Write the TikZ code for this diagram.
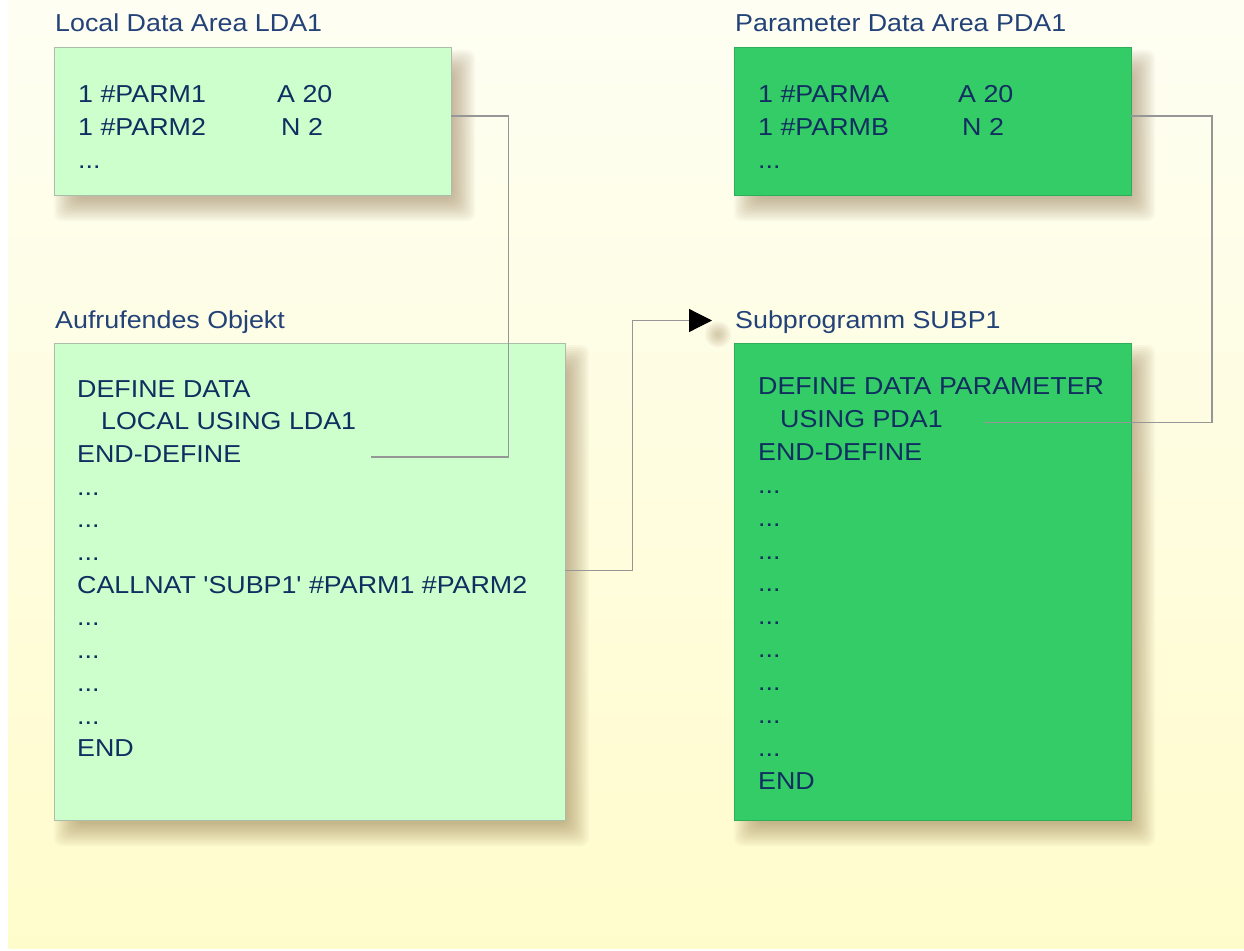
\documentclass[tikz,border=0pt]{standalone}
\usepackage{fontspec}
\setmainfont{Liberation Sans}[Ligatures=TeXOff,FakeStretch=1.095]
\usetikzlibrary{arrows.meta,calc}
\pgfdeclarelayer{bg}
\pgfsetlayers{bg,main}
\definecolor{bgtop}{RGB}{254,254,243}
\definecolor{bgmid}{RGB}{255,252,212}
\definecolor{bgbot}{RGB}{255,252,204}
\definecolor{lightg}{RGB}{204,255,204}
\definecolor{darkg}{RGB}{51,204,102}
\definecolor{lbord}{RGB}{170,190,170}
\definecolor{dbord}{RGB}{45,175,90}
\definecolor{txt}{RGB}{16,46,96}
\definecolor{ttl}{RGB}{35,66,120}
\definecolor{conncol}{RGB}{150,150,150}
\definecolor{shcol}{RGB}{120,85,40}
\newcommand\boxshadow[1]{%
  \foreach \k in {0,...,11}{%
    \pgfmathsetmacro\shr{-12+2*\k}%
    \pgfmathsetmacro\sha{12+\shr}%
    \pgfmathsetmacro\shb{14+\shr}%
    \pgfmathsetmacro\shc{12-\shr}%
    \pgfmathsetmacro\shd{14-\shr}%
    \fill[shcol,opacity=0.04,rounded corners=8pt]
      ($(#1.north west)+(\sha,\shb)$) rectangle ($(#1.south east)+(\shc,\shd)$);}}
\begin{document}
\begin{tikzpicture}[x=1pt,y=-1pt,
  font=\fontsize{24.5}{32.7}\selectfont,
  lbox/.style={draw=lbord,fill=lightg,line width=1pt,inner sep=0pt,outer sep=0pt,anchor=north west},
  dbox/.style={draw=dbord,fill=darkg,line width=1pt,inner sep=0pt,outer sep=0pt,anchor=north west},
  title/.style={text=ttl,inner sep=0pt,anchor=base west},
  code/.style={text=txt,inner sep=0pt,anchor=base west,align=left},
  conn/.style={draw=conncol,line width=1.2pt}]
\useasboundingbox (0,0) rectangle (1244,950);

% boxes
\node[lbox,minimum width=397pt,minimum height=147pt] (lda) at (54,48) {};
\node[dbox,minimum width=397pt,minimum height=147pt] (pda) at (734,48) {};
\node[lbox,minimum width=511pt,minimum height=477pt] (caller) at (54,343) {};
\node[dbox,minimum width=397pt,minimum height=477pt] (subp) at (734,343) {};

% titles
\node[title] (tlda) at (55,32) {Local Data Area LDA1};
\node[title] (tpda) at (735,32) {Parameter Data Area PDA1};
\node[title] (tcal) at (55,328) {Aufrufendes Objekt};
\node[title] (tsub) at (735,328) {Subprogramm SUBP1};

% contents (anchor = baseline of the last line)
\node[code,font=\fontsize{24.5}{33}\selectfont] (ldaA) at (78,168) {1 \#PARM1\\1 \#PARM2\\...};
\node[code,font=\fontsize{24.5}{33}\selectfont] (ldaB) at (277,135) {A 20\\\hspace*{4pt}N 2};
\node[code,font=\fontsize{24.5}{33}\selectfont] (pdaA) at (758,168) {1 \#PARMA\\1 \#PARMB\\...};
\node[code,font=\fontsize{24.5}{33}\selectfont] (pdaB) at (958,135) {A 20\\\hspace*{4pt}N 2};
\node[code] (calcode) at (77,756.7) {DEFINE DATA\\\hspace*{24pt}LOCAL USING LDA1\\END-DEFINE\\...\\...\\...\\CALLNAT 'SUBP1' \#PARM1 \#PARM2\\...\\...\\...\\...\\END};
\node[code,font=\fontsize{24.5}{32.9}\selectfont] (subcode) at (758,789.3) {DEFINE DATA PARAMETER\\\hspace*{22pt}USING PDA1\\END-DEFINE\\...\\...\\...\\...\\...\\...\\...\\...\\...\\END};

% connectors
\coordinate (k1) at (508.5,457);
\coordinate (e1) at (371,457);
\coordinate (k2) at (632.5,320.5);
\coordinate (tip) at (712,320.5);
\coordinate (k3) at (1212,422.5);
\coordinate (e3) at (984,422.5);
\draw[conn] ([yshift=5.5pt]lda.east) -| (k1) -- (e1);
\draw[conn,-{Triangle[length=23pt,width=23pt,color=black]}] ([yshift=11pt]caller.east) -| (k2) -- (tip);
\draw[conn] ([yshift=5.5pt]pda.east) -| (k3) -- (e3);

\begin{pgfonlayer}{bg}
  \shade[top color=bgtop,middle color=bgmid,bottom color=bgbot] (8,0) rectangle (1244,948);
  \boxshadow{lda}
  \boxshadow{pda}
  \boxshadow{caller}
  \boxshadow{subp}
  \foreach \rad in {3,5,...,13}{\fill[shcol,opacity=0.05] ($(tip)+(6,14)$) circle[radius=\rad];}
\end{pgfonlayer}
\end{tikzpicture}
\end{document}
